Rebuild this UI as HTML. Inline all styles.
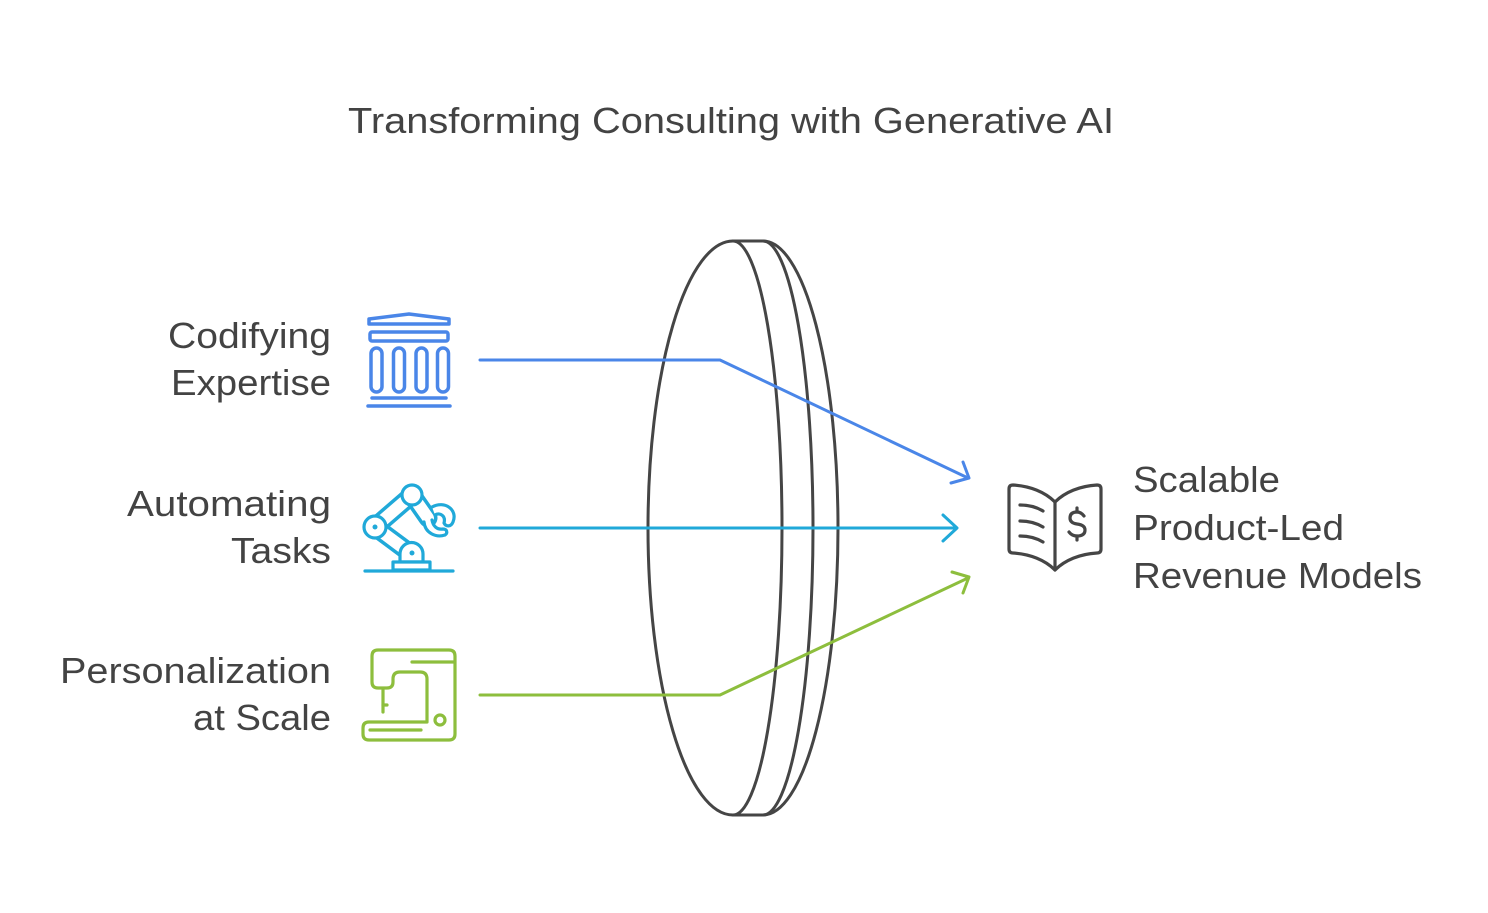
<!DOCTYPE html>
<html>
<head>
<meta charset="utf-8">
<style>
  html,body{margin:0;padding:0;background:#fff;}
  svg{display:block;}
  text{font-family:"Liberation Sans", Arial, sans-serif;fill:#434343;font-size:36px;}
</style>
</head>
<body>
<svg width="1488" height="913" viewBox="0 0 1488 913" xmlns="http://www.w3.org/2000/svg">
  <rect x="0" y="0" width="1488" height="913" fill="#fff"/>

  <!-- Title -->
  <text x="348" y="133" textLength="766" lengthAdjust="spacingAndGlyphs">Transforming Consulting with Generative AI</text>

  <!-- Left labels -->
  <text x="331" y="348" text-anchor="end" textLength="163" lengthAdjust="spacingAndGlyphs">Codifying</text>
  <text x="331" y="395" text-anchor="end" textLength="160" lengthAdjust="spacingAndGlyphs">Expertise</text>
  <text x="331" y="516" text-anchor="end" textLength="204" lengthAdjust="spacingAndGlyphs">Automating</text>
  <text x="331" y="563" text-anchor="end" textLength="100" lengthAdjust="spacingAndGlyphs">Tasks</text>
  <text x="331" y="683" text-anchor="end" textLength="271" lengthAdjust="spacingAndGlyphs">Personalization</text>
  <text x="331" y="730" text-anchor="end" textLength="138" lengthAdjust="spacingAndGlyphs">at Scale</text>

  <!-- Right labels -->
  <text x="1133" y="492" textLength="147" lengthAdjust="spacingAndGlyphs">Scalable</text>
  <text x="1133" y="540" textLength="211" lengthAdjust="spacingAndGlyphs">Product-Led</text>
  <text x="1133" y="588" textLength="289" lengthAdjust="spacingAndGlyphs">Revenue Models</text>

  <!-- Lens -->
  <g fill="none" stroke="#454545" stroke-width="3" stroke-linejoin="round" stroke-linecap="round">
    <path d="M 733 241 L 763 241 A 75 287 0 0 1 763 815 L 733 815 A 85 287 0 0 1 733 241 Z"/>
    <path d="M 733 241 A 49 287 0 0 1 733 815"/>
    <path d="M 763 241 A 50 287 0 0 1 763 815"/>
  </g>

  <!-- Connectors -->
  <g fill="none" stroke-width="3" stroke-linecap="round" stroke-linejoin="round">
    <path d="M 480 360 L 720 360 L 968 478" stroke="#4a86e8"/>
    <path d="M 963 462 L 969 478 L 951 483" stroke="#4a86e8"/>
    <path d="M 480 528 L 956 528" stroke="#20a9d9"/>
    <path d="M 943 515 L 957 528 L 943 541" stroke="#20a9d9"/>
    <path d="M 480 695 L 720 695 L 968 578" stroke="#8dbe3d"/>
    <path d="M 952 572 L 969 577 L 963 593" stroke="#8dbe3d"/>
  </g>

  <!-- Bank icon (blue) -->
  <g fill="none" stroke="#4a86e8" stroke-width="3.5" stroke-linejoin="round" stroke-linecap="round">
    <path d="M 369 324 L 369 319 L 409 314 L 449 319 L 449 324 Z"/>
    <rect x="370" y="332" width="78" height="9" rx="2"/>
    <rect x="371" y="348" width="11" height="44" rx="5.5"/>
    <rect x="393.5" y="348" width="11" height="44" rx="5.5"/>
    <rect x="416" y="348" width="11" height="44" rx="5.5"/>
    <rect x="437.5" y="348" width="11" height="44" rx="5.5"/>
    <path d="M 372 398 L 446 398"/>
    <path d="M 368 406 L 450 406"/>
  </g>

  <!-- Robot arm icon (cyan) -->
  <g stroke-linecap="round" stroke-linejoin="round">
    <path d="M 375 527 L 412 495" stroke="#20a9d9" stroke-width="19" fill="none"/>
    <path d="M 375 527 L 412 495" stroke="#fff" stroke-width="12" fill="none"/>
    <path d="M 375 527 L 410 553" stroke="#20a9d9" stroke-width="19" fill="none"/>
    <path d="M 375 527 L 410 553" stroke="#fff" stroke-width="12" fill="none"/>
    <path d="M 412 495 L 428 518" stroke="#20a9d9" stroke-width="19" fill="none"/>
    <path d="M 412 495 L 428 518" stroke="#fff" stroke-width="12" fill="none"/>
    <path d="M 432 507 C 445 500 458 510 453 522 C 451 527 446 527 444 523 C 446 516 440 512 435 515" fill="#fff" stroke="#20a9d9" stroke-width="3.2"/>
    <path d="M 424 522 C 425 533 436 538 445 535 C 448 533 447 529 443 529 C 437 530 433 526 432 520" fill="#fff" stroke="#20a9d9" stroke-width="3.2"/>
    <circle cx="375" cy="527" r="11" fill="#fff" stroke="#20a9d9" stroke-width="3.2"/>
    <circle cx="375" cy="527" r="2.5" fill="#20a9d9"/>
    <circle cx="412" cy="495" r="10" fill="#fff" stroke="#20a9d9" stroke-width="3.2"/>
    <path d="M 400 562 L 400 554 A 11.5 11.5 0 0 1 423 554 L 423 562 Z" fill="#fff" stroke="#20a9d9" stroke-width="3.2"/>
    <circle cx="412" cy="553" r="2.5" fill="#20a9d9"/>
    <rect x="393" y="562" width="37" height="8" fill="#fff" stroke="#20a9d9" stroke-width="3.2"/>
    <path d="M 365 571 L 453 571" stroke="#20a9d9" stroke-width="3.2" fill="none"/>
  </g>

  <!-- Sewing machine icon (green) -->
  <g fill="none" stroke="#8dbe3d" stroke-width="3.2" stroke-linejoin="round" stroke-linecap="round">
    <path d="M 378 650 L 449 650 Q 455 650 455 656 L 455 734 Q 455 740 449 740 L 369 740 Q 363 740 363 734 L 363 728 Q 363 722 369 722 L 427 722 L 427 679 Q 427 672 420 672 L 400 672 Q 393 672 393 679 L 393 682 Q 393 688 387 688 L 378 688 Q 372 688 372 682 L 372 656 Q 372 650 378 650 Z"/>
    <path d="M 412 662 L 454 662"/>
    <path d="M 383 690 L 383 712"/>
    <path d="M 383 705 L 387 705"/>
    <circle cx="440" cy="720" r="5"/>
    <path d="M 370 730 L 421 730"/>
  </g>

  <!-- Book with dollar icon (gray) -->
  <g fill="none" stroke="#454545" stroke-width="3.2" stroke-linejoin="round" stroke-linecap="round">
    <path d="M 1055 502 C 1045 492 1030 486 1013 485 Q 1009 485 1009 489 L 1009 549 Q 1009 553 1013 553 C 1030 554 1045 560 1055 570"/>
    <path d="M 1055 502 C 1065 492 1080 486 1097 485 Q 1101 485 1101 489 L 1101 549 Q 1101 553 1097 553 C 1080 554 1065 560 1055 570"/>
    <path d="M 1055 502 L 1055 568"/>
    <path d="M 1020 505 Q 1033 505 1043 511"/>
    <path d="M 1020 521 Q 1033 521 1043 527"/>
    <path d="M 1020 536 Q 1033 536 1043 542"/>
    <path d="M 1084 516 Q 1081 512 1077 512 Q 1070 512 1070 518 Q 1070 523 1077 524 Q 1085 525 1085 530 Q 1085 536 1077 536 Q 1072 536 1069 532"/>
    <path d="M 1077 508 L 1077 512"/>
    <path d="M 1077 536 L 1077 540"/>
  </g>
</svg>
</body>
</html>
